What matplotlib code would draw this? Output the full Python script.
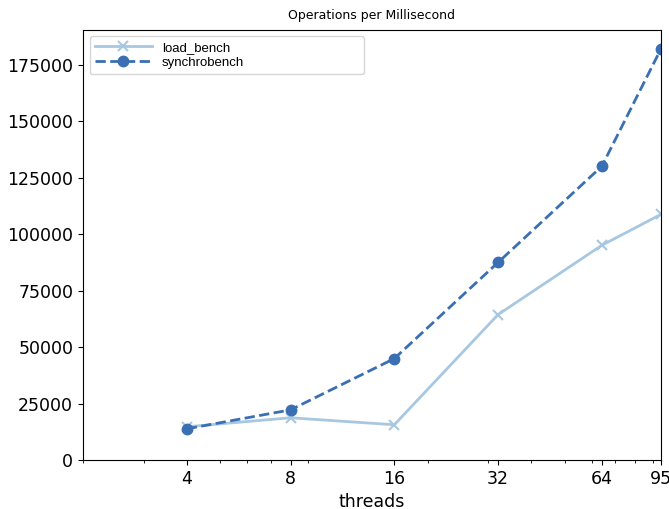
import numpy as np
import matplotlib
matplotlib.use("Agg")
import matplotlib.pyplot as plt
from matplotlib.ticker import ScalarFormatter

# thread counts and measured throughput (ops/ms)
threads = [4, 8, 16, 32, 64, 95]
load_bench = [14700, 18700, 15600, 64400, 95100, 108800]
synchrobench = [13800, 22200, 44900, 87500, 130100, 182100]

fig = plt.figure(figsize=(6.69, 5.09), dpi=100)
ax = fig.add_axes([0.124, 0.0963, 0.864, 0.845])

ax.plot(threads, load_bench, '-', marker='x', color='#a8c8e1', lw=2,
        ms=7, mew=1.5, label='load_bench')
ax.plot(threads, synchrobench, '--', marker='o', color='#3a70b3', lw=2,
        ms=7.5, label='synchrobench')

ax.set_xscale('log')
ax.set_xticks(threads)
ax.get_xaxis().set_major_formatter(ScalarFormatter())
ax.set_xlim(2, 95)
ax.set_ylim(bottom=0)
ax.tick_params(labelsize=12.5)

ax.set_xlabel('threads', fontsize=12.5)
ax.set_title('Operations per Millisecond', fontsize=9, pad=8)
ax.legend(loc='upper left', bbox_to_anchor=(0.0, 0.0, 0.497, 1.0),
          mode='expand', prop={'family': 'Liberation Sans', 'size': 9.5},
          handlelength=4.3, labelspacing=0.2, borderpad=0.4,
          handletextpad=0.8)

plt.savefig('out.png')
